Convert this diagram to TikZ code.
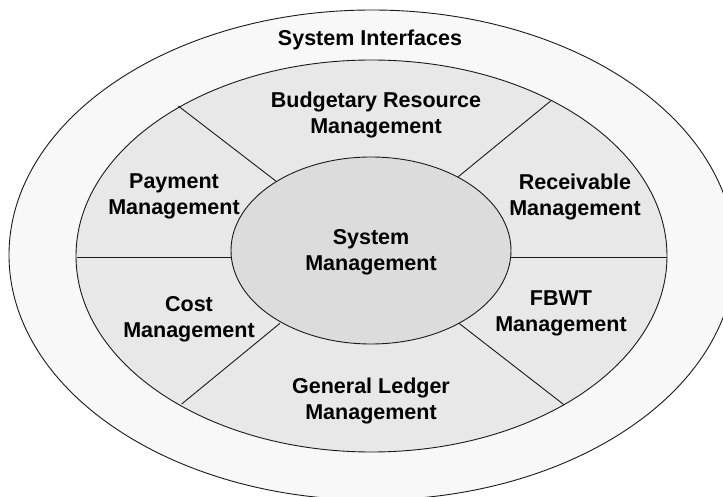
\documentclass[tikz,border=0pt]{standalone}
\usepackage{fontspec}
\setmainfont{Liberation Sans}
\usetikzlibrary{shapes.geometric}
\definecolor{ringout}{HTML}{F8F8F8}
\definecolor{ringmid}{HTML}{E8E8E8}
\definecolor{core}{HTML}{DCDCDC}
\definecolor{edge}{HTML}{1A1A1A}
\begin{document}
\begin{tikzpicture}[x=1pt,y=-1pt,
  ring/.style={ellipse, draw=edge, line width=0.9pt, inner sep=0pt},
  lbl/.style={font=\fontsize{21.5}{26}\selectfont\bfseries, align=center, inner sep=0pt, text=black},
  divider/.style={draw=edge, line width=0.9pt}]
\useasboundingbox (0,0) rectangle (723,497);
\node[ring, fill=ringout, minimum width=726pt, minimum height=490pt] (outer) at (372,255) {};
\node[ring, fill=ringmid, minimum width=591pt, minimum height=392pt] (middle) at (371.5,256) {};
\node[ring, fill=core, minimum width=280pt, minimum height=187pt] (inner) at (371,250.5) {};
\coordinate (lo) at (76.5,257);   \coordinate (li) at (231.2,257);
\coordinate (ro) at (666.5,257);  \coordinate (ri) at (510.8,257);
\coordinate (ulo) at (178.3,106); \coordinate (uli) at (276.7,181.7);
\coordinate (uro) at (551,100.7); \coordinate (uri) at (458.3,176.7);
\coordinate (llo) at (181.7,404); \coordinate (lli) at (280,323.3);
\coordinate (lro) at (564.3,405); \coordinate (lri) at (459,323.3);
\draw[divider] (lo) -- (li);
\draw[divider] (ro) -- (ri);
\draw[divider] (ulo) -- (uli);
\draw[divider] (uro) -- (uri);
\draw[divider] (llo) -- (lli);
\draw[divider] (lro) -- (lri);
\node[lbl] (si) at (370,39.5) {System Interfaces};
\node[lbl] (brm) at (376,114.5) {Budgetary Resource\\Management};
\node[lbl] (pm) at (174,196.5) {Payment\\Management};
\node[lbl] (rm) at (575,196.5) {Receivable\\Management};
\node[lbl] (sm) at (371,252) {System\\Management};
\node[lbl] (cm) at (189,319) {Cost\\Management};
\node[lbl] (fm) at (561,313.5) {FBWT\\Management};
\node[lbl] (gl) at (371,401) {General Ledger\\Management};
\end{tikzpicture}
\end{document}
